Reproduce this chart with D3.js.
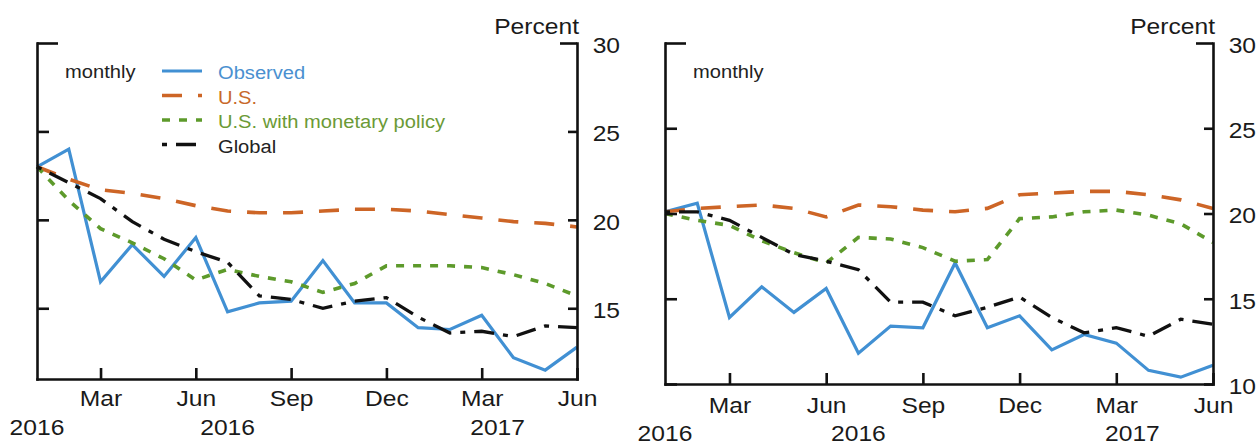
<!DOCTYPE html>
<html>
<head>
<meta charset="utf-8">
<script src="https://cdn.jsdelivr.net/npm/d3@7"></script>
<style>
  html, body { margin: 0; padding: 0; background: #fff; }
  svg { display: block; font-family: "Liberation Sans", Arial, Helvetica, sans-serif; }
</style>
</head>
<body>
<svg id="chart" width="1258" height="446"></svg>
<script>
// Monthly observations, Jan 2016 – Jun 2017
const months = ["2016-01","2016-02","2016-03","2016-04","2016-05","2016-06",
                "2016-07","2016-08","2016-09","2016-10","2016-11","2016-12",
                "2017-01","2017-02","2017-03","2017-04","2017-05","2017-06"];
const tickMonths = ["2016-03","2016-06","2016-09","2016-12","2017-03","2017-06"];
const tickNames  = ["Mar","Jun","Sep","Dec","Mar","Jun"];
const yearNames  = ["2016","2016","2017"];
const yearSpans  = [["2016-01"],["2016-07"],["2017-03","2017-04"]];
const seriesNames = ["Observed","U.S.","U.S. with monetary policy","Global"];

// Left panel (percent)
const observedL = [23.0, 24.0, 16.5, 18.6, 16.8, 19.0, 14.8, 15.3, 15.4, 17.7, 15.3, 15.3, 13.9, 13.8, 14.6, 12.2, 11.5, 12.8];
const usL       = [23.0, 22.3, 21.7, 21.5, 21.2, 20.8, 20.5, 20.4, 20.4, 20.5, 20.6, 20.6, 20.5, 20.3, 20.1, 19.9, 19.8, 19.6];
const usPolicyL = [23.0, 21.1, 19.5, 18.7, 17.8, 16.6, 17.2, 16.8, 16.5, 15.9, 16.4, 17.4, 17.4, 17.4, 17.3, 16.9, 16.4, 15.7];
const globalL   = [23.0, 22.1, 21.2, 19.9, 18.9, 18.2, 17.6, 15.7, 15.5, 15.0, 15.4, 15.6, 14.5, 13.6, 13.7, 13.4, 14.0, 13.9];
const yTicksL   = [15, 20, 25, 30];

// Right panel (percent)
const observedR = [20.1, 20.6, 13.9, 15.7, 14.2, 15.6, 11.8, 13.4, 13.3, 17.1, 13.3, 14.0, 12.0, 12.9, 12.4, 10.8, 10.4, 11.1];
const usR       = [20.1, 20.3, 20.4, 20.5, 20.3, 19.8, 20.5, 20.4, 20.2, 20.1, 20.3, 21.1, 21.2, 21.3, 21.3, 21.1, 20.8, 20.3];
const usPolicyR = [20.0, 19.6, 19.3, 18.4, 17.7, 17.1, 18.6, 18.5, 18.0, 17.2, 17.3, 19.7, 19.8, 20.1, 20.2, 19.9, 19.4, 18.3];
const globalR   = [20.1, 20.1, 19.6, 18.6, 17.6, 17.2, 16.7, 14.8, 14.8, 14.0, 14.5, 15.1, 13.9, 13.0, 13.3, 12.8, 13.8, 13.5];
const yTicksR   = [10, 15, 20, 25, 30];

// Line styles, in legend order
const seriesStyle = [
  { color: "#4190d3", dash: null,        width: 3.2 },
  { color: "#cd6526", dash: "20,16",     width: 3.6 },
  { color: "#5d9a2b", dash: "8,9",       width: 3.6 },
  { color: "#111111", dash: "5,9,20,9",  width: 3.3 }
];
const legendText = ["#4a90d0", "#c8692a", "#6b9a36", "#222222"];

const svg = d3.select("#chart");
const SX = 1.12;         // horizontal stretch for axis text
const SXS = 1.06;        // horizontal stretch for legend text
const AXW = 2.6;         // axis stroke width

function label(g, str, x, y, size, anchor, fill, sx = SX) {
  return g.append("text")
    .attr("transform", `translate(${x},${y}) scale(${sx},1)`)
    .attr("text-anchor", anchor)
    .attr("font-size", size)
    .attr("fill", fill)
    .text(str);
}

function styleAxis(sel) {
  sel.attr("font-size", null).attr("font-family", null);
  sel.select(".domain").attr("stroke", "#111").attr("stroke-width", AXW).attr("stroke-linecap", "square");
  sel.selectAll(".tick line").attr("stroke", "#111").attr("stroke-width", AXW);
  sel.selectAll(".tick text").attr("fill", "#1a1a1a").attr("font-size", 22);
}

function drawPanel(L, series, yTicks) {
  const x = d3.scalePoint().domain(months).range([L.x0, L.x1]);
  const y = d3.scaleLinear().domain([L.yMin, L.yMax]).range([L.y0, L.y1]);
  const g = svg.append("g");

  // series
  const line = d3.line().x((d, i) => x(months[i])).y(d => y(d));
  series.forEach((vals, k) => {
    const s = seriesStyle[k];
    g.append("path").datum(vals)
      .attr("d", line)
      .attr("fill", "none")
      .attr("stroke", s.color)
      .attr("stroke-width", s.width)
      .attr("stroke-dasharray", s.dash)
      .attr("stroke-linejoin", "miter");
  });

  // left axis: inward ticks, no labels
  const axL = g.append("g").attr("transform", `translate(${L.x0},0)`)
    .call(d3.axisLeft(y).tickValues(yTicks).tickSize(-12).tickSizeOuter(0).tickFormat(""));
  styleAxis(axL);
  axL.selectAll(".tick").filter(d => d === L.yMax).select("line").attr("x2", 21);

  // right axis: inward ticks, labels outside
  const axR = g.append("g").attr("transform", `translate(${L.x1},0)`)
    .call(d3.axisRight(y).tickValues(yTicks).tickSize(-9).tickSizeOuter(0).tickPadding(14));
  styleAxis(axR);
  axR.selectAll(".tick").filter(d => d === L.yMax).select("line").attr("x2", -17);
  axR.selectAll(".tick text").attr("dy", "0.43em").attr("transform", `scale(${SX},1)`);

  // bottom axis: month ticks pointing up
  const axB = g.append("g").attr("transform", `translate(0,${L.y0})`)
    .call(d3.axisBottom(x).tickValues(tickMonths).tickSize(-11).tickSizeOuter(0)
      .tickFormat(d => tickNames[tickMonths.indexOf(d)]));
  styleAxis(axB);
  axB.selectAll(".tick text").attr("y", L.tickDrop).attr("dy", 0).attr("transform", `scale(${SX},1)`);

  // year labels
  yearNames.forEach((name, i) => {
    const cx = d3.mean(yearSpans[i], m => x(m));
    label(g, name, cx, L.yearBaseline, 22, "middle", "#1a1a1a");
  });

  // unit label
  label(g, "Percent", L.x1 + 2, 34, 22, "end", "#1a1a1a");

  // frequency note
  label(g, "monthly", L.x0 + 28, 78, 19, "start", "#222", SXS);

  if (L.legend) {
    seriesNames.forEach((name, k) => {
      const s = seriesStyle[k];
      const ly = 71 + k * 24.5;
      g.append("line")
        .attr("x1", L.x0 + 125).attr("x2", L.x0 + 165)
        .attr("y1", ly).attr("y2", ly)
        .attr("stroke", s.color)
        .attr("stroke-width", s.width)
        .attr("stroke-dasharray", s.dash);
      label(g, name, L.x0 + 181, ly + 8, 19, "start", legendText[k], SXS);
    });
  }
}

drawPanel({ x0: 37, x1: 577, y0: 379, yMin: 11, y1: 43, yMax: 30, tickDrop: 27, yearBaseline: 435, legend: true },
          [observedL, usL, usPolicyL, globalL], yTicksL);
drawPanel({ x0: 665, x1: 1213, y0: 384, yMin: 10, y1: 43, yMax: 30, tickDrop: 29, yearBaseline: 441, legend: false },
          [observedR, usR, usPolicyR, globalR], yTicksR);
</script>
</body>
</html>
